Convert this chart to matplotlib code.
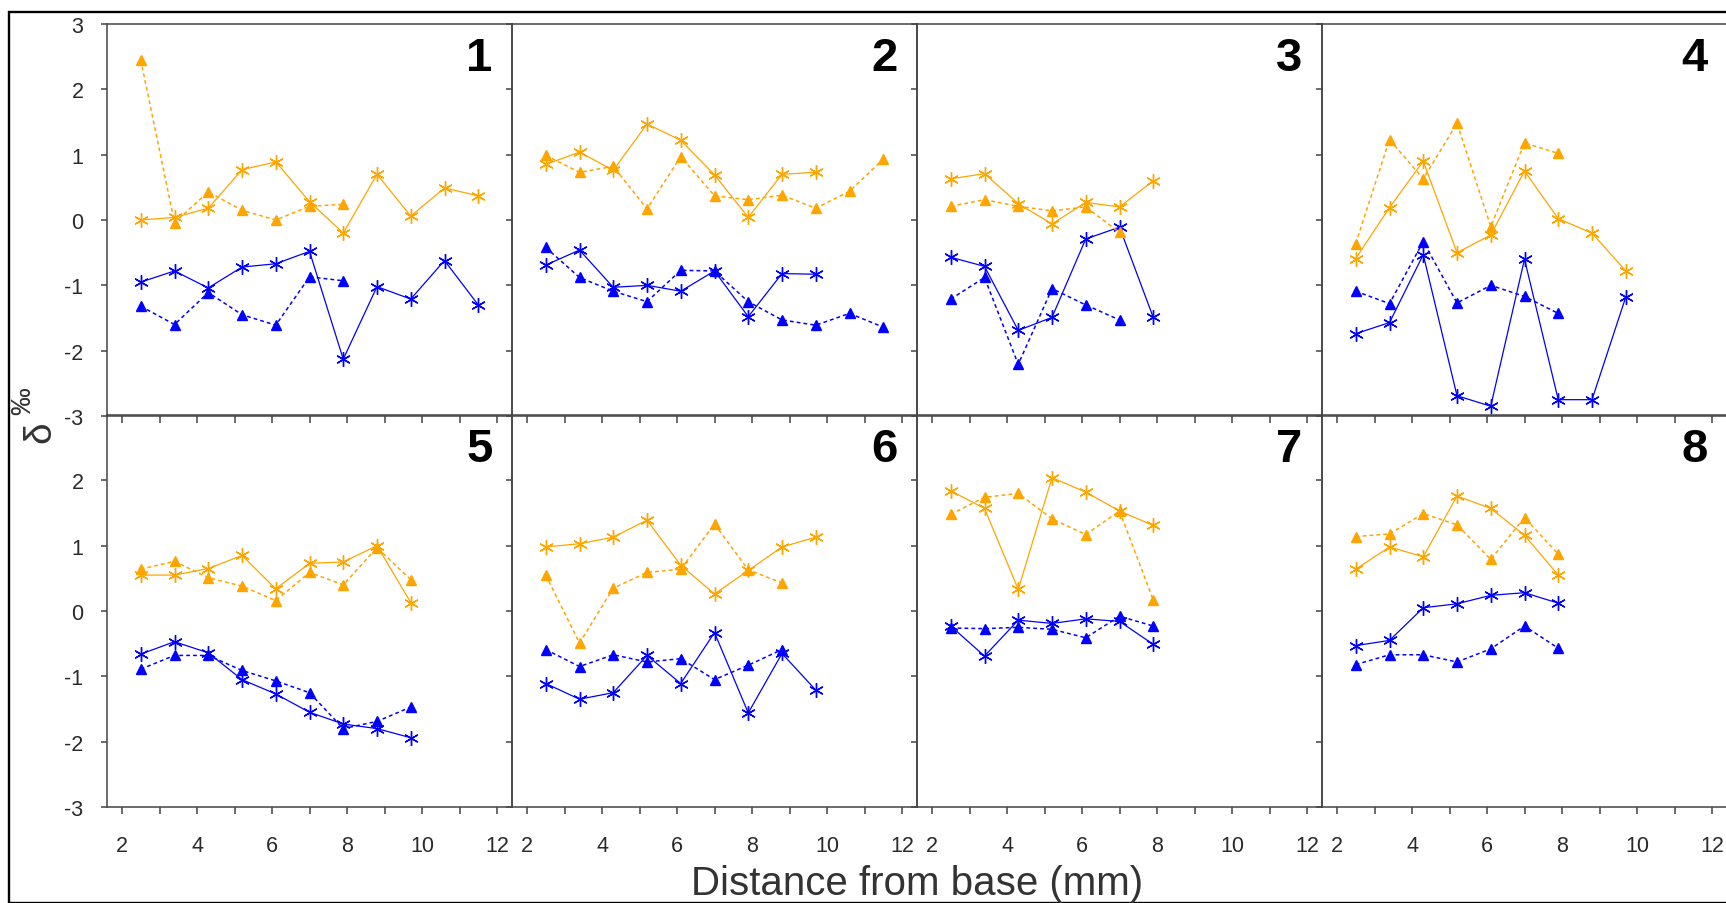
import matplotlib
matplotlib.use('Agg')
import matplotlib.pyplot as plt
from matplotlib.patches import Rectangle

plt.rcParams['font.family'] = ['Liberation Sans', 'DejaVu Sans']
plt.rcParams['axes.unicode_minus'] = False

# distance from base (mm) of the successive samples
dist = [2.5, 3.4, 4.3, 5.2, 6.1, 7.0, 7.9, 8.8, 9.7, 10.6, 11.5]

# one list per panel (1..8)
orange_star = [
    [0.0, 0.04, 0.18, 0.77, 0.89, 0.28, -0.20, 0.70, 0.06, 0.49, 0.37],
    [0.85, 1.04, 0.76, 1.47, 1.22, 0.69, 0.04, 0.70, 0.73],
    [0.63, 0.71, 0.25, -0.06, 0.27, 0.20, 0.60],
    [-0.59, 0.19, 0.90, -0.50, -0.23, 0.75, 0.02, -0.20, -0.78],
    [0.55, 0.55, 0.65, 0.85, 0.34, 0.73, 0.75, 1.00, 0.13],
    [0.98, 1.03, 1.13, 1.39, 0.70, 0.26, 0.62, 0.98, 1.13],
    [1.84, 1.57, 0.33, 2.04, 1.82, 1.53, 1.31],
    [0.64, 0.98, 0.83, 1.76, 1.57, 1.16, 0.55],
]
orange_tri = [
    [2.45, -0.04, 0.43, 0.15, 0.0, 0.21, 0.24],
    [0.99, 0.73, 0.82, 0.17, 0.97, 0.37, 0.31, 0.38, 0.18, 0.44, 0.93],
    [0.21, 0.31, 0.21, 0.14, 0.20, -0.19],
    [-0.36, 1.23, 0.63, 1.48, -0.10, 1.18, 1.02],
    [0.64, 0.76, 0.51, 0.38, 0.16, 0.59, 0.40, 0.97, 0.48],
    [0.55, -0.49, 0.35, 0.59, 0.64, 1.33, 0.63, 0.43],
    [1.48, 1.74, 1.80, 1.41, 1.17, 1.53, 0.17],
    [1.14, 1.18, 1.49, 1.32, 0.79, 1.43, 0.87],
]
blue_star = [
    [-0.95, -0.78, -1.04, -0.72, -0.67, -0.48, -2.13, -1.02, -1.21, -0.62, -1.30],
    [-0.69, -0.46, -1.03, -1.00, -1.09, -0.78, -1.48, -0.82, -0.83],
    [-0.57, -0.71, -1.69, -1.49, -0.29, -0.11, -1.49],
    [-1.74, -1.57, -0.53, -2.69, -2.85, -0.60, -2.75, -2.75, -1.18],
    [-0.66, -0.47, -0.64, -1.05, -1.27, -1.55, -1.73, -1.80, -1.94],
    [-1.11, -1.35, -1.25, -0.68, -1.11, -0.33, -1.56, -0.65, -1.21],
    [-0.23, -0.69, -0.14, -0.19, -0.12, -0.16, -0.51],
    [-0.53, -0.45, 0.05, 0.11, 0.24, 0.28, 0.12],
]
blue_tri = [
    [-1.32, -1.60, -1.11, -1.45, -1.61, -0.87, -0.93],
    [-0.42, -0.88, -1.09, -1.25, -0.77, -0.78, -1.25, -1.53, -1.61, -1.43, -1.64],
    [-1.21, -0.88, -2.21, -1.05, -1.30, -1.53],
    [-1.09, -1.28, -0.33, -1.27, -1.00, -1.17, -1.43],
    [-0.89, -0.68, -0.68, -0.91, -1.07, -1.25, -1.80, -1.69, -1.47],
    [-0.59, -0.85, -0.67, -0.78, -0.73, -1.05, -0.83, -0.59],
    [-0.26, -0.27, -0.25, -0.28, -0.41, -0.08, -0.23],
    [-0.82, -0.67, -0.67, -0.78, -0.58, -0.23, -0.57],
]

ORANGE = '#FFA500'
BLUE = '#0000FF'
W, H = 1726, 904
lefts = [107, 512, 917, 1322]
tops = [25, 416]
pw, ph = 405, 392
asterisk = (6, 2, 0)
dotted = (0, (2.5, 2.0))

fig = plt.figure(figsize=(W / 100, H / 100), dpi=100)

for i in range(8):
    row, col = divmod(i, 4)
    ax = fig.add_axes([lefts[col] / W, 1 - (tops[row] + ph) / H, pw / W, ph / H])
    ax.set_facecolor('none')

    n = len(blue_tri[i])
    ax.plot(dist[:n], blue_tri[i], color=BLUE, ls=dotted, lw=1.1,
            marker='^', ms=7.5, mec=BLUE, mfc=BLUE)
    n = len(blue_star[i])
    ax.plot(dist[:n], blue_star[i], color=BLUE, ls='-', lw=0.9,
            marker=asterisk, ms=10.5, mew=1.0)
    n = len(orange_tri[i])
    ax.plot(dist[:n], orange_tri[i], color=ORANGE, ls=dotted, lw=1.1,
            marker='^', ms=7.5, mec=ORANGE, mfc=ORANGE)
    n = len(orange_star[i])
    ax.plot(dist[:n], orange_star[i], color=ORANGE, ls='-', lw=0.9,
            marker=asterisk, ms=10.5, mew=1.0)

    ax.set_xlim(1.6, 12.4)
    ax.set_ylim(-3, 3)
    ax.set_xticks(range(2, 13))
    ax.set_xticklabels([str(v) if v % 2 == 0 else '' for v in range(2, 13)])
    if row == 0:
        ax.set_yticks([-3, -2, -1, 0, 1, 2, 3])
    else:
        ax.set_yticks([-3, -2, -1, 0, 1, 2])

    for s in ax.spines.values():
        s.set_color('#444444')
        s.set_linewidth(1.1)
    ax.tick_params(axis='x', direction='out', length=5, width=1.1, color='#444444',
                   labelbottom=(row == 1), labelsize=15.5, labelcolor='#2a2a2a', pad=15)
    ax.tick_params(axis='y', direction='out', length=4, width=1.1, color='#444444',
                   labelleft=(col == 0), labelsize=15.5, labelcolor='#2a2a2a', pad=13)

    ax.text(0.952, 0.97, str(i + 1), transform=ax.transAxes, ha='right', va='top',
            fontsize=34, fontweight='bold', color='black')

fig.text(917 / W, 1 - 884 / H, 'Distance from base (mm)', ha='center', va='center',
         fontsize=29, color='#333333')
fig.text(40 / W, 1 - 432 / H, 'δ', rotation=90, ha='center', va='center',
         fontsize=28, color='#333333')
fig.text(23 / W, 1 - 401 / H, '‰', rotation=90, ha='center', va='center',
         fontsize=20, color='#333333')

fig.patches.append(Rectangle((9 / W, 0), 1, 1 - 13 / H, transform=fig.transFigure,
                             fill=False, edgecolor='black', linewidth=1.7))

fig.savefig('out.png', dpi=100)
